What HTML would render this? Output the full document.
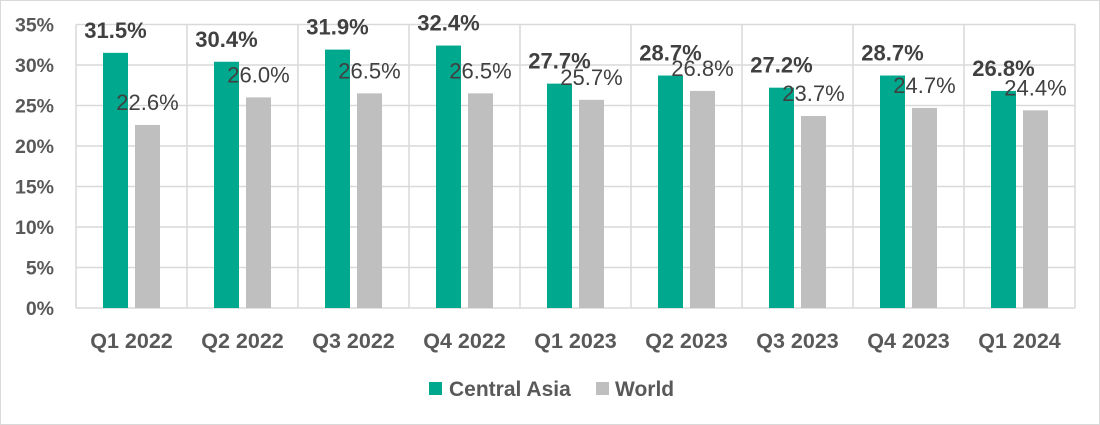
<!DOCTYPE html>
<html><head><meta charset="utf-8"><style>
body{margin:0;background:#fff}
svg{display:block;font-family:"Liberation Sans",sans-serif}
</style></head><body>
<svg id="chart" width="1100" height="425">
<rect x="0.5" y="0.5" width="1099" height="424" fill="#fff" stroke="#d9d9d9"/>
<g id="grid"></g><g id="bars"></g><g id="labels"></g>
<g>
<rect x="429" y="382" width="13" height="13" fill="#00a88e"/>
<text x="449" y="396" font-size="21" font-weight="bold" fill="#595959">Central Asia</text>
<rect x="596" y="382" width="13" height="13" fill="#bfbfbf"/>
<text x="615" y="396" font-size="21" font-weight="bold" fill="#595959">World</text>
</g>
</svg>
<script>
const categories=["Q1 2022","Q2 2022","Q3 2022","Q4 2022","Q1 2023","Q2 2023","Q3 2023","Q4 2023","Q1 2024"];
const centralAsia=[31.5,30.4,31.9,32.4,27.7,28.7,27.2,28.7,26.8];
const world=[22.6,26.0,26.5,26.5,25.7,26.8,23.7,24.7,24.4];
const yTicks=[0,5,10,15,20,25,30,35];
const NS="http://www.w3.org/2000/svg";
const L=76,R=1075,Y0=308,Y35=24.5;
const cw=(R-L)/categories.length;
const y=v=>Y0-(v/35)*(Y0-Y35);
function mk(p,tag,a,t){const e=document.createElementNS(NS,tag);for(const k in a)e.setAttribute(k,a[k]);if(t!=null)e.textContent=t;p.appendChild(e);return e;}
const g=document.getElementById('grid'),b=document.getElementById('bars'),lb=document.getElementById('labels');
yTicks.forEach(t=>{
 const ln=mk(g,'line',{x1:L,x2:R,y1:y(t),y2:y(t),stroke:'#d9d9d9','stroke-width':1.5});
 
 
 const tx=mk(g,'text',{x:54,y:y(t)+7,'font-size':19.5,'font-weight':'bold',fill:'#595959','text-anchor':'end'},t+'%');
 
 
});
for(let i=0;i<=categories.length;i++){
 const ln=mk(g,'line',{x1:L+i*cw,x2:L+i*cw,y1:Y35,y2:Y0,stroke:'#d9d9d9','stroke-width':1.5});
 
 
}
categories.forEach((c,i)=>{
 const x0=L+i*cw;
 const tx=mk(g,'text',{x:x0+cw/2,y:348,'font-size':21.5,'font-weight':'bold',fill:'#595959','text-anchor':'middle'},c);
 
 
 const ca=centralAsia[i],w=world[i];
 const r1=mk(b,'rect',{x:x0+27,y:y(ca),width:25,height:Y0-y(ca),fill:'#00a88e'});
 
 
 const r2=mk(b,'rect',{x:x0+59,y:y(w),width:25,height:Y0-y(w),fill:'#bfbfbf'});
 
 
 const t1=mk(lb,'text',{x:x0+39.5,y:y(ca)-15,'font-size':22,'font-weight':'bold',fill:'#404040','text-anchor':'middle'},ca.toFixed(1)+'%');
 
 
 const t2=mk(lb,'text',{x:x0+71.5,y:y(w)-15,'font-size':22,fill:'#404040','text-anchor':'middle'},w.toFixed(1)+'%');
 
 
});
</script>
</body></html>
